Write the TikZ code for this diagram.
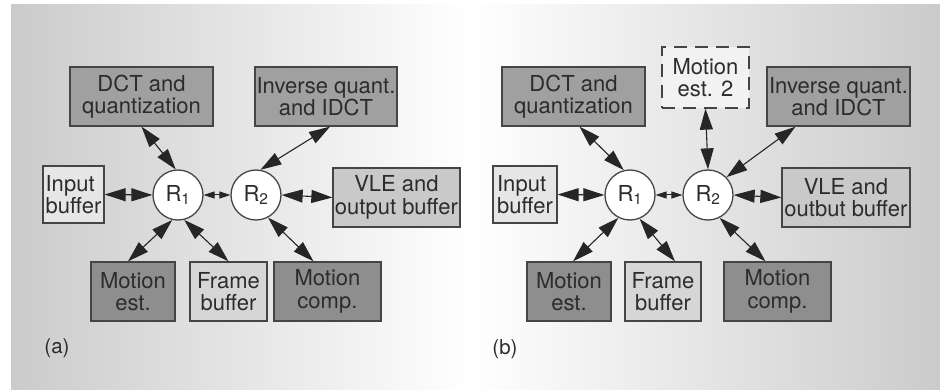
\documentclass[tikz,border=0pt]{standalone}
\usepackage{fontspec}
\setmainfont{TeX Gyre Heros}
\usetikzlibrary{arrows.meta}
\definecolor{bgedge}{HTML}{CBCBCB}
\definecolor{boxdark}{HTML}{8E8E8E}
\definecolor{boxmid}{HTML}{A0A0A0}
\definecolor{boxlight}{HTML}{C9C9C9}
\definecolor{boxpale}{HTML}{D6D6D6}
\definecolor{boxwhite}{HTML}{E6E6E6}
\definecolor{boxghost}{HTML}{F2F2F2}
\definecolor{edgecol}{HTML}{454545}
\definecolor{txtcol}{HTML}{2C2C2C}
\tikzset{
  blk/.style={draw=edgecol, line width=1.3pt, rectangle, inner sep=0pt, align=center,
    text=txtcol, font=\fontsize{22}{22.5}\selectfont},
  rnode/.style={draw=edgecol, line width=1.3pt, circle, fill=white, minimum size=50pt,
    inner sep=0pt, text=txtcol, font=\fontsize{22}{22.5}\selectfont},
  link/.style={line width=1.1pt, draw=black!85,
    {Triangle[length=21pt,width=13pt]}-{Triangle[length=21pt,width=13pt]}},
  shortlink/.style={line width=1pt, draw=black!85,
    {Triangle[length=11pt,width=7pt]}-{Triangle[length=11pt,width=7pt]}},
  plabel/.style={text=txtcol, font=\fontsize{20.5}{22}\selectfont}
}
\begin{document}
\begin{tikzpicture}[x=1pt,y=-1pt]
\fill[white] (0,0) rectangle (940,390);
\useasboundingbox (0,0) rectangle (940,390);
\shade[left color=bgedge, right color=white] (11,5) rectangle (470,390);
\shade[left color=white, right color=bgedge] (470,5) rectangle (940,390);

% ---------- panel (a) ----------
\node[blk, fill=boxmid, minimum width=143pt, minimum height=59pt] (adct) at (141.5,96.5) {DCT and\\quantization};
\node[blk, fill=boxmid, minimum width=142pt, minimum height=59pt] (aiq) at (326,96.5) {Inverse quant.\\and IDCT};
\node[blk, fill=boxwhite, minimum width=61pt, minimum height=57pt, align=left] (ainb) at (73.5,194.5) {Input\\buffer};
\node[rnode] (ar1) at (178,195) {R\textsubscript{1}};
\node[rnode] (ar2) at (256,195) {R\textsubscript{2}};
\node[blk, fill=boxlight, minimum width=127pt, minimum height=59pt] (avle) at (396.5,197.5) {VLE and\\output buffer};
\node[blk, fill=boxdark, minimum width=84pt, minimum height=59pt] (ame) at (133,291.5) {Motion\\est.};
\node[blk, fill=boxpale, minimum width=77pt, minimum height=59pt] (afb) at (228.5,291.5) {Frame\\buffer};
\node[blk, fill=boxdark, minimum width=107pt, minimum height=59pt] (amc) at (327.5,291.5) {Motion\\comp.};
\node[plabel] (alab) at (57,348) {(a)};

\draw[link] (adct.south) -- (ar1.95);
\draw[link] ([xshift=4pt]aiq.south) -- (ar2.80);
\draw[link] (ainb.east) -- (ar1.west);
\draw[shortlink] (ar1.east) -- (ar2.west);
\draw[link] (ar2.east) -- (avle.west);
\draw[link] ([xshift=-5pt]ame.north) -- (ar1.257);
\draw[link] (ar1.284) -- (afb.north);
\draw[link] (ar2.298) -- ([xshift=-14pt]amc.north);

% ---------- panel (b) ----------
\node[blk, fill=boxmid, minimum width=143pt, minimum height=59pt] (bdct) at (573.5,96.5) {DCT and\\quantization};
\node[blk, fill=boxghost, dash pattern=on 13pt off 8pt, minimum width=87pt, minimum height=61pt] (bme2) at (705.5,77.5) {Motion\\est. 2};
\node[blk, fill=boxmid, minimum width=143pt, minimum height=59pt] (biq) at (838.5,96.5) {Inverse quant.\\and IDCT};
\node[blk, fill=boxwhite, minimum width=64pt, minimum height=57pt, align=left] (binb) at (525,194.5) {Input\\buffer};
\node[rnode] (br1) at (630,195) {R\textsubscript{1}};
\node[rnode] (br2) at (708,195) {R\textsubscript{2}};
\node[blk, fill=boxlight, minimum width=128pt, minimum height=59pt] (bvle) at (846,197.5) {VLE and\\outbut buffer};
\node[blk, fill=boxdark, minimum width=84pt, minimum height=59pt] (bme) at (569,291.5) {Motion\\est.};
\node[blk, fill=boxpale, minimum width=76pt, minimum height=59pt] (bfb) at (663,291.5) {Frame\\buffer};
\node[blk, fill=boxdark, minimum width=107pt, minimum height=59pt] (bmc) at (777.5,291.5) {Motion\\comp.};
\node[plabel] (blab) at (505,349) {(b)};

\draw[link] ([xshift=6pt]bdct.south) -- (br1.104);
\draw[link] (bme2.south) -- (br2.north);
\draw[link] ([xshift=-43pt]biq.south) -- (br2.44);
\draw[link] (binb.east) -- (br1.west);
\draw[shortlink] (br1.east) -- (br2.west);
\draw[link] (br2.east) -- (bvle.west);
\draw[link] ([xshift=4pt]bme.north) -- (br1.243);
\draw[link] (br1.292) -- ([xshift=12pt]bfb.north);
\draw[link] (br2.297) -- ([xshift=-12pt]bmc.north);
\end{tikzpicture}
\end{document}
